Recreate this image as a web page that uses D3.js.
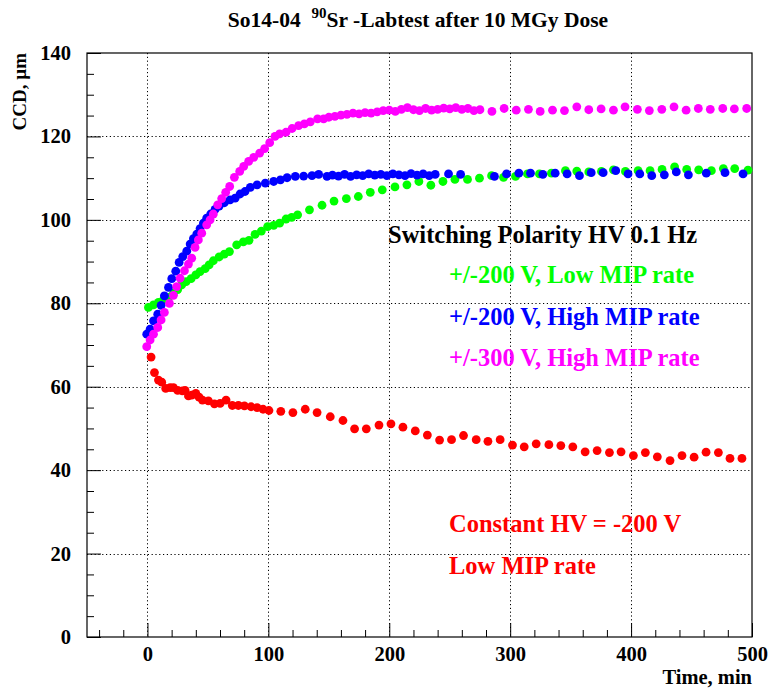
<!DOCTYPE html>
<html>
<head>
<meta charset="utf-8">
<script src="https://cdn.jsdelivr.net/npm/d3@7"></script>
<style>
  html, body { margin: 0; padding: 0; background: #fff; }
  svg { display: block; }
  text { font-family: "Liberation Serif", "Times New Roman", serif; font-weight: bold; }
</style>
</head>
<body>
<svg id="chart" width="768" height="691"></svg>
<script>
// ---------------- DATA ----------------
const titleMain = "So14-04  ";
const titleSup = "90";
const titleRest = "Sr -Labtest after 10 MGy Dose";
const xLabel = "Time, min";
const yLabel = "CCD, \u00b5m";

const xMajorTicks = [0, 100, 200, 300, 400, 500];
const yMajorTicks = [0, 20, 40, 60, 80, 100, 120, 140];
const xGrid = [0, 100, 200, 300, 400];
const yGrid = [20, 40, 60, 80, 100, 120];

// +/-200 V, Low MIP rate (green)
const greenTime = [0.8, 5, 9.1, 13.2, 17.4, 21.5, 25, 28.3, 32, 36.1, 40, 43.5, 47.7, 51, 54.5, 59.3, 63.6, 67.8, 73.8, 79.3, 84, 89, 94.2, 99.4, 104.4, 109.3, 114.6, 119.3, 124.2,
  134, 144.4, 154.3, 164.5, 174.4, 184.3, 194.2, 204.7, 214.6, 224.5, 234.4, 244.4, 254.3, 264.7, 274.6, 284.6, 294.5, 304.4, 314.3, 324.2, 334.1, 345.7, 355.1, 365, 375.5, 385.4, 395.3, 405.8, 415.7, 425.6, 436, 446, 455.9, 466.4, 476.3, 485.7, 496.7];
const greenCCD = [79.0, 79.6, 80.2, 80.8, 81.4, 82.4, 83.3, 84.4, 85.2, 85.9, 86.8, 87.6, 88.3, 89.2, 90.2, 91.1, 91.8, 92.4, 94.0, 94.7, 95.1, 96.5, 97.3, 98.4, 98.7, 99.2, 100.2, 100.6, 101.2,
  102.4, 103.5, 104.5, 105.1, 105.6, 106.6, 107.2, 107.9, 108.4, 109.2, 108.3, 109.2, 109.7, 109.7, 110.0, 110.6, 110.2, 110.4, 111.0, 111.0, 111.2, 111.8, 111.7, 111.5, 111.6, 112.0, 111.6, 111.8, 111.8, 112.1, 112.7, 112.1, 112.0, 111.8, 112.3, 112.3, 111.9];

// +/-200 V, High MIP rate (blue)
const blueTime = [-0.6, 2.2, 5, 8.5, 11.3, 14, 17.4, 20.1, 23.4, 26.2, 29.2, 32.5, 35.3, 38, 40.8, 43.5, 46.3, 49, 52.3, 55.9, 59.3, 63.6, 68.3, 72.5, 76.6, 80.7, 85.1, 90.7, 97.5, 104.4, 110, 115.5, 122.3, 129.2, 136.1, 141.6, 148.5,
  153, 158, 163, 168, 173, 178, 183, 188, 193, 198, 203, 208, 213, 218, 223, 228, 233, 238,
  249, 259, 287, 297, 307.2, 316.8, 327, 337.2, 347.1, 357.3, 367, 376.9, 387.3, 397.5, 407.2, 417.1, 427.5, 437.4, 447.4, 462.2, 477.7, 492.6];
const blueCCD = [72.6, 73.8, 75.8, 77.4, 79.5, 81.8, 83.8, 85.9, 87.7, 89.8, 91.2, 92.5, 94.2, 95.5, 96.6, 97.9, 99.2, 100.4, 101.4, 102.5, 103.3, 104.1, 104.8, 105.2, 106.2, 106.8, 107.8, 108.4, 108.8, 109.2, 109.6, 110.1, 110.4, 110.5, 110.6, 110.9, 110.4,
  110.7, 110.5, 110.9, 110.4, 110.8, 110.6, 111.0, 110.7, 110.9, 110.6, 111.0, 110.8, 110.6, 111.1, 110.7, 111.0, 110.6, 110.9,
  111.0, 110.9, 110.4, 111.0, 111.2, 111.2, 110.9, 111.2, 111.0, 110.6, 111.3, 111.3, 111.8, 111.0, 111.0, 110.6, 110.8, 111.5, 110.8, 111.2, 111.3, 111.0];

// +/-300 V, High MIP rate (magenta)
const magentaTime = [-0.6, 2.2, 5, 8.5, 11.3, 14, 18.2, 21.5, 24.2, 27, 30.6, 33.9, 36.6, 39.4, 42.1, 44.9, 49, 51.8, 54.5, 58.1, 61.4, 64.7, 68, 71.9, 76.3, 79.6, 83.7, 87.9, 92.8, 96.9, 101.1, 105.5, 109.3, 114.6, 119.6, 125, 129.8, 134.7, 140.7, 145.7,
  150, 155, 160, 165, 170, 175, 180, 185, 190, 195, 200, 205, 210, 215, 220, 225, 230, 235, 240, 245, 250, 255, 260, 265, 270, 275,
  284.9, 295, 305, 315.1, 324.8, 335, 344.9, 355.1, 365, 375.2, 385.4, 395, 405.2, 415.1, 425.4, 435.5, 445.5, 455.6, 465.5, 475.8, 485.4, 495.6];
const magentaCCD = [69.6, 71.2, 72.6, 74.2, 76.0, 77.8, 80.0, 81.9, 84.0, 86.0, 87.8, 89.4, 90.8, 93.4, 95.2, 96.8, 98.8, 100.0, 101.4, 103.6, 105.1, 106.6, 108.0, 110.2, 111.6, 112.8, 114.0, 115.0, 116.0, 117.1, 118.5, 120.0, 120.6, 121.0, 121.9, 122.6, 123.0, 123.5, 124.2, 124.2,
  124.6, 124.8, 125.1, 125.3, 125.6, 125.4, 125.7, 125.6, 125.9, 126.2, 126.3, 126.0, 126.5, 126.9, 126.4, 126.2, 126.7, 126.3, 126.5, 126.8, 126.6, 126.9, 126.5, 126.7, 126.2, 126.4,
  126.0, 126.7, 126.3, 126.5, 126.0, 126.3, 126.2, 127.1, 126.4, 126.6, 126.3, 127.1, 126.5, 126.2, 126.5, 127.1, 126.3, 126.7, 126.5, 126.7, 126.6, 126.7];

// Constant HV = -200 V, Low MIP rate (red)
const redTime = [3, 5.8, 9.1, 11.8, 15.1, 18.8, 21.5, 25, 28.9, 31.1, 33.9, 36.6, 40, 42.7, 45.5, 50.4, 55.4, 60.1, 65, 70.2, 75.2, 80.2, 85.7, 90.7, 95.6, 100.5,
  110.3, 120.3, 130.5, 140.3, 151.2, 161.7, 171.3, 181, 191.5, 201.4, 211.3, 221.5, 231.5, 241.6, 251.5, 261.4, 271.9, 281.6, 291.7, 301.9, 311.6, 321.5, 332, 341.9, 351.8, 362, 371.9, 382.1, 391.7, 401.9, 411.8, 421.7, 432.2, 442.1, 452.1, 462, 472.2, 481.8, 491.7];
const redCCD = [67.1, 63.4, 61.6, 61.1, 59.6, 59.8, 59.8, 59.1, 59.0, 59.1, 57.8, 58.0, 58.4, 57.5, 56.8, 56.6, 55.9, 56.0, 56.8, 55.5, 55.5, 55.4, 55.2, 55.0, 54.6, 54.3,
  54.1, 53.8, 54.6, 53.8, 52.8, 51.9, 49.9, 49.9, 50.8, 51.1, 50.3, 49.4, 48.4, 47.2, 47.3, 48.3, 47.3, 46.9, 47.3, 46.0, 45.6, 46.3, 46.1, 45.9, 45.6, 44.4, 44.7, 44.2, 44.4, 43.5, 44.2, 43.2, 42.3, 43.5, 43.1, 44.3, 44.2, 42.8, 42.8];

const seriesNames = ["+/-200 V, Low MIP rate", "+/-200 V, High MIP rate", "+/-300 V, High MIP rate", "Constant HV = -200 V"];
const seriesColors = ["#00ff00", "#0000ff", "#ff00ff", "#ff0000"];
const legendHeader = "Switching Polarity HV 0.1 Hz";
const redNote2 = "Low MIP rate";

// ---------------- CHART ----------------
const svg = d3.select("#chart");
const pL = 87, pR = 752, pT = 53, pB = 637;

const x = d3.scaleLinear().domain([-50, 500]).range([pL, pR]);
const y = d3.scaleLinear().domain([0, 140]).range([pB, pT]);

// grid
const grid = svg.append("g").attr("stroke", "#000").attr("stroke-width", 1).attr("stroke-dasharray", "1.2,2.6");
grid.selectAll("line.gx").data(xGrid).join("line").attr("class", "gx")
  .attr("x1", d => Math.round(x(d)) + 0.5).attr("x2", d => Math.round(x(d)) + 0.5)
  .attr("y1", pT).attr("y2", pB);
grid.selectAll("line.gy").data(yGrid).join("line").attr("class", "gy")
  .attr("y1", d => Math.round(y(d)) + 0.5).attr("y2", d => Math.round(y(d)) + 0.5)
  .attr("x1", pL).attr("x2", pR);

// axes
const xMinor = d3.range(-40, 501, 20).filter(v => !xMajorTicks.includes(v));
const yMinor = d3.range(5, 140, 5).filter(v => !yMajorTicks.includes(v));

svg.append("g").attr("transform", `translate(0,${pB})`)
  .call(d3.axisBottom(x).tickValues(xMajorTicks).tickSize(-14).tickPadding(9).tickFormat(d3.format("d")));
svg.append("g").attr("transform", `translate(0,${pB})`)
  .call(d3.axisBottom(x).tickValues(xMinor).tickSize(-7).tickFormat(""));
svg.append("g").attr("transform", `translate(${pL},0)`)
  .call(d3.axisLeft(y).tickValues(yMajorTicks).tickSize(-14).tickPadding(16).tickFormat(d3.format("d")));
svg.append("g").attr("transform", `translate(${pL},0)`)
  .call(d3.axisLeft(y).tickValues(yMinor).tickSize(-7).tickFormat(""));

svg.selectAll(".domain").remove();
svg.selectAll(".tick line").attr("stroke", "#000").attr("stroke-width", 1);
svg.selectAll(".tick text").attr("font-size", 20.5).attr("font-family", "Liberation Serif").attr("font-weight", "bold").attr("fill", "#000");

// frame
svg.append("rect").attr("x", pL).attr("y", pT).attr("width", pR - pL).attr("height", pB - pT)
  .attr("fill", "none").attr("stroke", "#000").attr("stroke-width", 1.2);

// data points
const allSeries = [
  { t: greenTime, v: greenCCD, c: seriesColors[0] },
  { t: blueTime, v: blueCCD, c: seriesColors[1] },
  { t: magentaTime, v: magentaCCD, c: seriesColors[2] },
  { t: redTime, v: redCCD, c: seriesColors[3] }
];
allSeries.forEach(s => {
  svg.append("g").selectAll("circle")
    .data(s.t.map((t, i) => [t, s.v[i]]))
    .join("circle")
    .attr("cx", d => x(d[0])).attr("cy", d => y(d[1])).attr("r", 4.4)
    .attr("fill", s.c);
});

// title
const title = svg.append("text").attr("x", 418).attr("y", 27).attr("text-anchor", "middle")
  .attr("font-size", 21.5).attr("fill", "#000").attr("xml:space", "preserve");
title.append("tspan").text(titleMain);
title.append("tspan").text(titleSup).attr("font-size", 15).attr("dy", -9);
title.append("tspan").text(titleRest).attr("dy", 9);

// axis labels
svg.append("text").attr("x", pR).attr("y", 684).attr("text-anchor", "end")
  .attr("font-size", 20.5).attr("fill", "#000").text(xLabel);
svg.append("text").attr("transform", `translate(26,53) rotate(-90)`).attr("text-anchor", "end")
  .attr("font-size", 19).attr("fill", "#000").text(yLabel);

// legend texts
svg.append("text").attr("x", 388).attr("y", 243).attr("font-size", 24.5).attr("fill", "#000").text(legendHeader);
const legY = [283, 325, 366];
[0, 1, 2].forEach(i => {
  svg.append("text").attr("x", 449).attr("y", legY[i]).attr("font-size", 24.5).attr("fill", seriesColors[i]).text(seriesNames[i]);
});
svg.append("text").attr("x", 449).attr("y", 532).attr("font-size", 24.5).attr("fill", seriesColors[3]).text(seriesNames[3]);
svg.append("text").attr("x", 449).attr("y", 574).attr("font-size", 24.5).attr("fill", seriesColors[3]).text(redNote2);
</script>
</body>
</html>
